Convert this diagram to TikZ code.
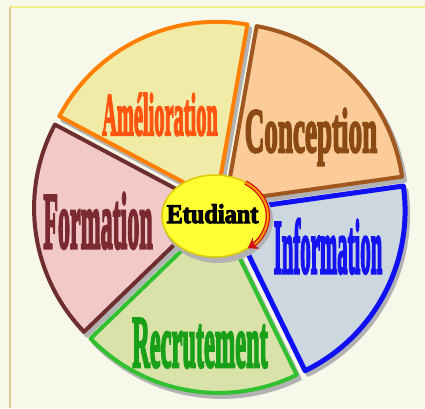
\documentclass[tikz,border=0pt]{standalone}
\usepackage{fontspec}
\setmainfont{Liberation Serif}
\newfontfamily\slicefont[FakeBold=4]{Liberation Serif Bold}
\usetikzlibrary{shapes.geometric,arrows.meta}
\definecolor{paper}{HTML}{F8F8EA}
\definecolor{topline}{HTML}{EEEE88}
\definecolor{leftline}{HTML}{E2CC92}
\definecolor{amelF}{HTML}{F0EBA6}
\definecolor{amelD}{HTML}{FF8000}
\definecolor{amelT}{HTML}{FF5510}
\definecolor{concF}{HTML}{FCCB9A}
\definecolor{concD}{HTML}{A0581E}
\definecolor{concT}{HTML}{8B4A14}
\definecolor{formF}{HTML}{F2C9C9}
\definecolor{formD}{HTML}{6E2E2E}
\definecolor{formT}{HTML}{7A2A30}
\definecolor{infoF}{HTML}{CDD7DF}
\definecolor{infoD}{HTML}{1010F5}
\definecolor{infoT}{HTML}{1414F0}
\definecolor{recrF}{HTML}{D9E3A9}
\definecolor{recrD}{HTML}{30C030}
\definecolor{recrT}{HTML}{18A018}
\definecolor{etudF}{HTML}{FFFF33}
\definecolor{etudD}{HTML}{DCCC00}
\definecolor{arrowD}{HTML}{D01010}
\definecolor{arrowF}{HTML}{FF9A00}

\begin{document}
\begin{tikzpicture}[x=1pt,y=1pt,
    slice/.style = {line width=4pt,line join=round},
    shade/.style = {fill=black!30,draw=black!30,line width=4pt,line join=round},
    word/.style  = {anchor=base,font=\slicefont,inner sep=0pt}]
    \useasboundingbox (0,0) rectangle (425,408);
    \fill[paper] (0,0) rectangle (425,408);
    \draw[topline,line width=1.5pt] (10,401) -- (425,401);
    \draw[leftline,line width=2pt] (10,401) -- (10,0);

    % shadows of the slices
    \filldraw[shade,shift={(44:8)},xshift=3,yshift=-4]
        (220,201) -- ++(8:178pt) arc[start angle=8,end angle=80,radius=178pt] -- cycle;
    \filldraw[shade,shift={(116:8)},xshift=3,yshift=-4]
        (220,201) -- ++(80:178pt) arc[start angle=80,end angle=152,radius=178pt] -- cycle;
    \filldraw[shade,shift={(188:8)},xshift=3,yshift=-4]
        (220,201) -- ++(152:178pt) arc[start angle=152,end angle=224,radius=178pt] -- cycle;
    \filldraw[shade,shift={(260:8)},xshift=3,yshift=-4]
        (220,201) -- ++(224:178pt) arc[start angle=224,end angle=296,radius=178pt] -- cycle;
    \filldraw[shade,shift={(332:8)},xshift=3,yshift=-4]
        (220,201) -- ++(296:178pt) arc[start angle=296,end angle=368,radius=178pt] -- cycle;

    % slices
    \draw[slice,concD,fill=concF,shift={(44:8)}]
        (220,201) -- ++(8:178pt) arc[start angle=8,end angle=80,radius=178pt] -- cycle;
    \draw[slice,amelD,fill=amelF,shift={(116:8)}]
        (220,201) -- ++(80:178pt) arc[start angle=80,end angle=152,radius=178pt] -- cycle;
    \draw[slice,formD,fill=formF,shift={(188:8)}]
        (220,201) -- ++(152:178pt) arc[start angle=152,end angle=224,radius=178pt] -- cycle;
    \draw[slice,recrD,fill=recrF,shift={(260:8)}]
        (220,201) -- ++(224:178pt) arc[start angle=224,end angle=296,radius=178pt] -- cycle;
    \draw[slice,infoD,fill=infoF,shift={(332:8)},line width=5pt]
        (220,201) -- ++(296:178pt) arc[start angle=296,end angle=368,radius=178pt] -- cycle;

    \node[word,amelT] (amel) at (160,273)
        {\fontsize{60}{60}\selectfont\scalebox{0.34}[1]{Amélioration}};
    \node[word,concT] (conc) at (311,256)
        {\fontsize{63}{63}\selectfont\scalebox{0.43}[1]{Conception}};
    \node[word,formT] (form) at (98,160)
        {\fontsize{80}{80}\selectfont\scalebox{0.30}[1]{Formation}};
    \node[word,infoT] (info) at (328,135)
        {\fontsize{77}{77}\selectfont\scalebox{0.27}[1]{Information}};
    \node[word,recrT] (recr) at (200,41)
        {\fontsize{74}{74}\selectfont\scalebox{0.33}[1]{Recrutement}};

    % centre
    \fill[black!30] (218,188) ellipse [x radius=55pt,y radius=43pt];
    \node[ellipse,draw=etudD,line width=1.5pt,fill=etudF,
          minimum width=106,minimum height=82,inner sep=0pt] (etud) at (215,192) {};
    \node[word] (etudtext) at (212.5,185)
        {\fontsize{27}{27}\selectfont\scalebox{0.9}[1]{Etudiant}};
    \draw[arrowD,line width=4.5pt,-{Stealth[length=10pt,width=13pt]}]
        (etud.center) ++(55:53pt and 41pt)
        arc[start angle=55,end angle=-52,x radius=53pt,y radius=41pt];
    \draw[arrowF,line width=2pt,shorten >=8pt]
        (etud.center) ++(55:53pt and 41pt)
        arc[start angle=55,end angle=-52,x radius=53pt,y radius=41pt];
\end{tikzpicture}
\end{document}
